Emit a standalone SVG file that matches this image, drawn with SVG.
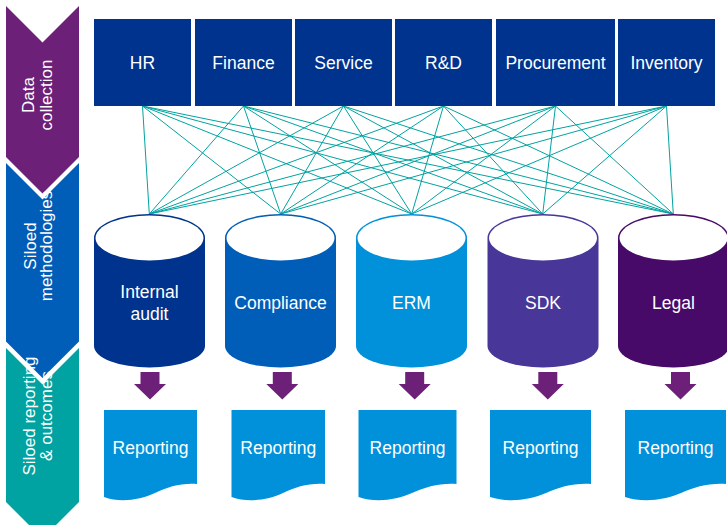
<svg xmlns="http://www.w3.org/2000/svg" width="727" height="525" viewBox="0 0 727 525">
<style>
text{font-family:"Liberation Sans",Arial,sans-serif;fill:#ffffff;text-anchor:middle}
.t{font-size:17.5px}
.c{font-size:17px}
.box{fill:#00338D}
.doc{fill:#0091DA}
.arr{fill:#6D2077}
.face{fill:#ffffff}
#connectors line{stroke:#00A3A1;stroke-width:1}
</style>
<rect width="727" height="525" fill="#ffffff"/>
<g id="stages">
<g id="stage-data">
<path d="M6,6 L42.5,42.5 L79,6 L79,157 L42.5,193.5 L6,157 Z" fill="#6D2077"/>
<text class="c" transform="translate(34,95) rotate(-90)">Data</text>
<text class="c" transform="translate(51.5,95) rotate(-90)">collection</text>
</g>
<g id="stage-methods">
<path d="M6,163 L42.5,199.5 L79,163 L79,341.5 L42.5,378 L6,341.5 Z" fill="#005EB8"/>
<text class="c" transform="translate(36,246) rotate(-90)">Siloed</text>
<text class="c" transform="translate(52,246) rotate(-90)">methodologies</text>
</g>
<g id="stage-reporting">
<path d="M6,348 L42.5,384.5 L79,348 L79,502 L42.5,538.5 L6,502 Z" fill="#00A3A1"/>
<text class="c" transform="translate(35,416) rotate(-90)">Siloed reporting</text>
<text class="c" transform="translate(52,416) rotate(-90)">&amp; outcomes</text>
</g>
</g>
<g id="connectors">
<line x1="142.5" y1="106" x2="149.3" y2="214"/><line x1="142.5" y1="106" x2="280.7" y2="214"/><line x1="142.5" y1="106" x2="411.7" y2="214"/><line x1="142.5" y1="106" x2="542.7" y2="214"/><line x1="142.5" y1="106" x2="673.3" y2="214"/>
<line x1="243.5" y1="106" x2="149.3" y2="214"/><line x1="243.5" y1="106" x2="280.7" y2="214"/><line x1="243.5" y1="106" x2="411.7" y2="214"/><line x1="243.5" y1="106" x2="542.7" y2="214"/><line x1="243.5" y1="106" x2="673.3" y2="214"/>
<line x1="343.5" y1="106" x2="149.3" y2="214"/><line x1="343.5" y1="106" x2="280.7" y2="214"/><line x1="343.5" y1="106" x2="411.7" y2="214"/><line x1="343.5" y1="106" x2="542.7" y2="214"/><line x1="343.5" y1="106" x2="673.3" y2="214"/>
<line x1="443.5" y1="106" x2="149.3" y2="214"/><line x1="443.5" y1="106" x2="280.7" y2="214"/><line x1="443.5" y1="106" x2="411.7" y2="214"/><line x1="443.5" y1="106" x2="542.7" y2="214"/><line x1="443.5" y1="106" x2="673.3" y2="214"/>
<line x1="555.5" y1="106" x2="149.3" y2="214"/><line x1="555.5" y1="106" x2="280.7" y2="214"/><line x1="555.5" y1="106" x2="411.7" y2="214"/><line x1="555.5" y1="106" x2="542.7" y2="214"/><line x1="555.5" y1="106" x2="673.3" y2="214"/>
<line x1="666.5" y1="106" x2="149.3" y2="214"/><line x1="666.5" y1="106" x2="280.7" y2="214"/><line x1="666.5" y1="106" x2="411.7" y2="214"/><line x1="666.5" y1="106" x2="542.7" y2="214"/><line x1="666.5" y1="106" x2="673.3" y2="214"/>
</g>
<g id="sources">
<g id="hr"><rect class="box" x="94" y="19" width="97" height="87"/><text class="t" x="142.5" y="69">HR</text></g>
<g id="finance"><rect class="box" x="195" y="19" width="97" height="87"/><text class="t" x="243.5" y="69">Finance</text></g>
<g id="service"><rect class="box" x="295" y="19" width="97" height="87"/><text class="t" x="343.5" y="69">Service</text></g>
<g id="rd"><rect class="box" x="395" y="19" width="97" height="87"/><text class="t" x="443.5" y="69">R&amp;D</text></g>
<g id="procurement"><rect class="box" x="496" y="19" width="119" height="87"/><text class="t" x="555.5" y="69">Procurement</text></g>
<g id="inventory"><rect class="box" x="618" y="19" width="97" height="87"/><text class="t" x="666.5" y="69">Inventory</text></g>
</g>
<g id="silos">
<g id="internal-audit">
<path d="M94,238 V346 A55.5,21.5 0 0 0 205,346 V238 A55.5,24 0 0 0 94,238 Z" fill="#00338D"/>
<ellipse class="face" cx="149.5" cy="238" rx="54" ry="22.5"/>
<text class="t" x="149.5" y="298">Internal</text><text class="t" x="149.5" y="320">audit</text>
</g>
<g id="compliance">
<path d="M225,238 V346 A55.5,21.5 0 0 0 336,346 V238 A55.5,24 0 0 0 225,238 Z" fill="#005EB8"/>
<ellipse class="face" cx="280.5" cy="238" rx="54" ry="22.5"/>
<text class="t" x="280.5" y="309">Compliance</text>
</g>
<g id="erm">
<path d="M356,238 V346 A55.5,21.5 0 0 0 467,346 V238 A55.5,24 0 0 0 356,238 Z" fill="#0091DA"/>
<ellipse class="face" cx="411.5" cy="238" rx="54" ry="22.5"/>
<text class="t" x="411.5" y="309">ERM</text>
</g>
<g id="sdk">
<path d="M487.5,238 V346 A55.5,21.5 0 0 0 598.5,346 V238 A55.5,24 0 0 0 487.5,238 Z" fill="#483698"/>
<ellipse class="face" cx="543" cy="238" rx="54" ry="22.5"/>
<text class="t" x="543" y="309">SDK</text>
</g>
<g id="legal">
<path d="M618,238 V346 A55.5,21.5 0 0 0 729,346 V238 A55.5,24 0 0 0 618,238 Z" fill="#470A68"/>
<ellipse class="face" cx="673.5" cy="238" rx="54" ry="22.5"/>
<text class="t" x="673.5" y="309">Legal</text>
</g>
</g>
<g id="arrows">
<path class="arr" d="M140.5,372 h19 v12 h6.5 l-16,15.5 l-16,-15.5 h6.5 Z"/>
<path class="arr" d="M272.8,372 h19 v12 h6.5 l-16,15.5 l-16,-15.5 h6.5 Z"/>
<path class="arr" d="M405.2,372 h19 v12 h6.5 l-16,15.5 l-16,-15.5 h6.5 Z"/>
<path class="arr" d="M538.3,372 h19 v12 h6.5 l-16,15.5 l-16,-15.5 h6.5 Z"/>
<path class="arr" d="M671,372 h19 v12 h6.5 l-16,15.5 l-16,-15.5 h6.5 Z"/>
</g>
<g id="reports">
<g id="report-1"><path class="doc" d="M104,410 H197 V484 C180,483 168,487 155,493 C140,500 120,503 104,497 Z"/><text class="t" x="150.5" y="454">Reporting</text></g>
<g id="report-2"><path class="doc" d="M231.5,410 H325 V484 C308,483 296,487 283,493 C268,500 248,503 231.5,497 Z"/><text class="t" x="278.3" y="454">Reporting</text></g>
<g id="report-3"><path class="doc" d="M358.5,410 H456.5 V484 C439,483 426,487 412,493 C396,500 376,503 358.5,497 Z"/><text class="t" x="407.5" y="454">Reporting</text></g>
<g id="report-4"><path class="doc" d="M490,410 H591 V484 C573,483 560,487 546,493 C530,500 508,503 490,497 Z"/><text class="t" x="540.5" y="454">Reporting</text></g>
<g id="report-5"><path class="doc" d="M625,410 H726 V484 C708,483 695,487 681,493 C665,500 643,503 625,497 Z"/><text class="t" x="675.5" y="454">Reporting</text></g>
</g>
</svg>
